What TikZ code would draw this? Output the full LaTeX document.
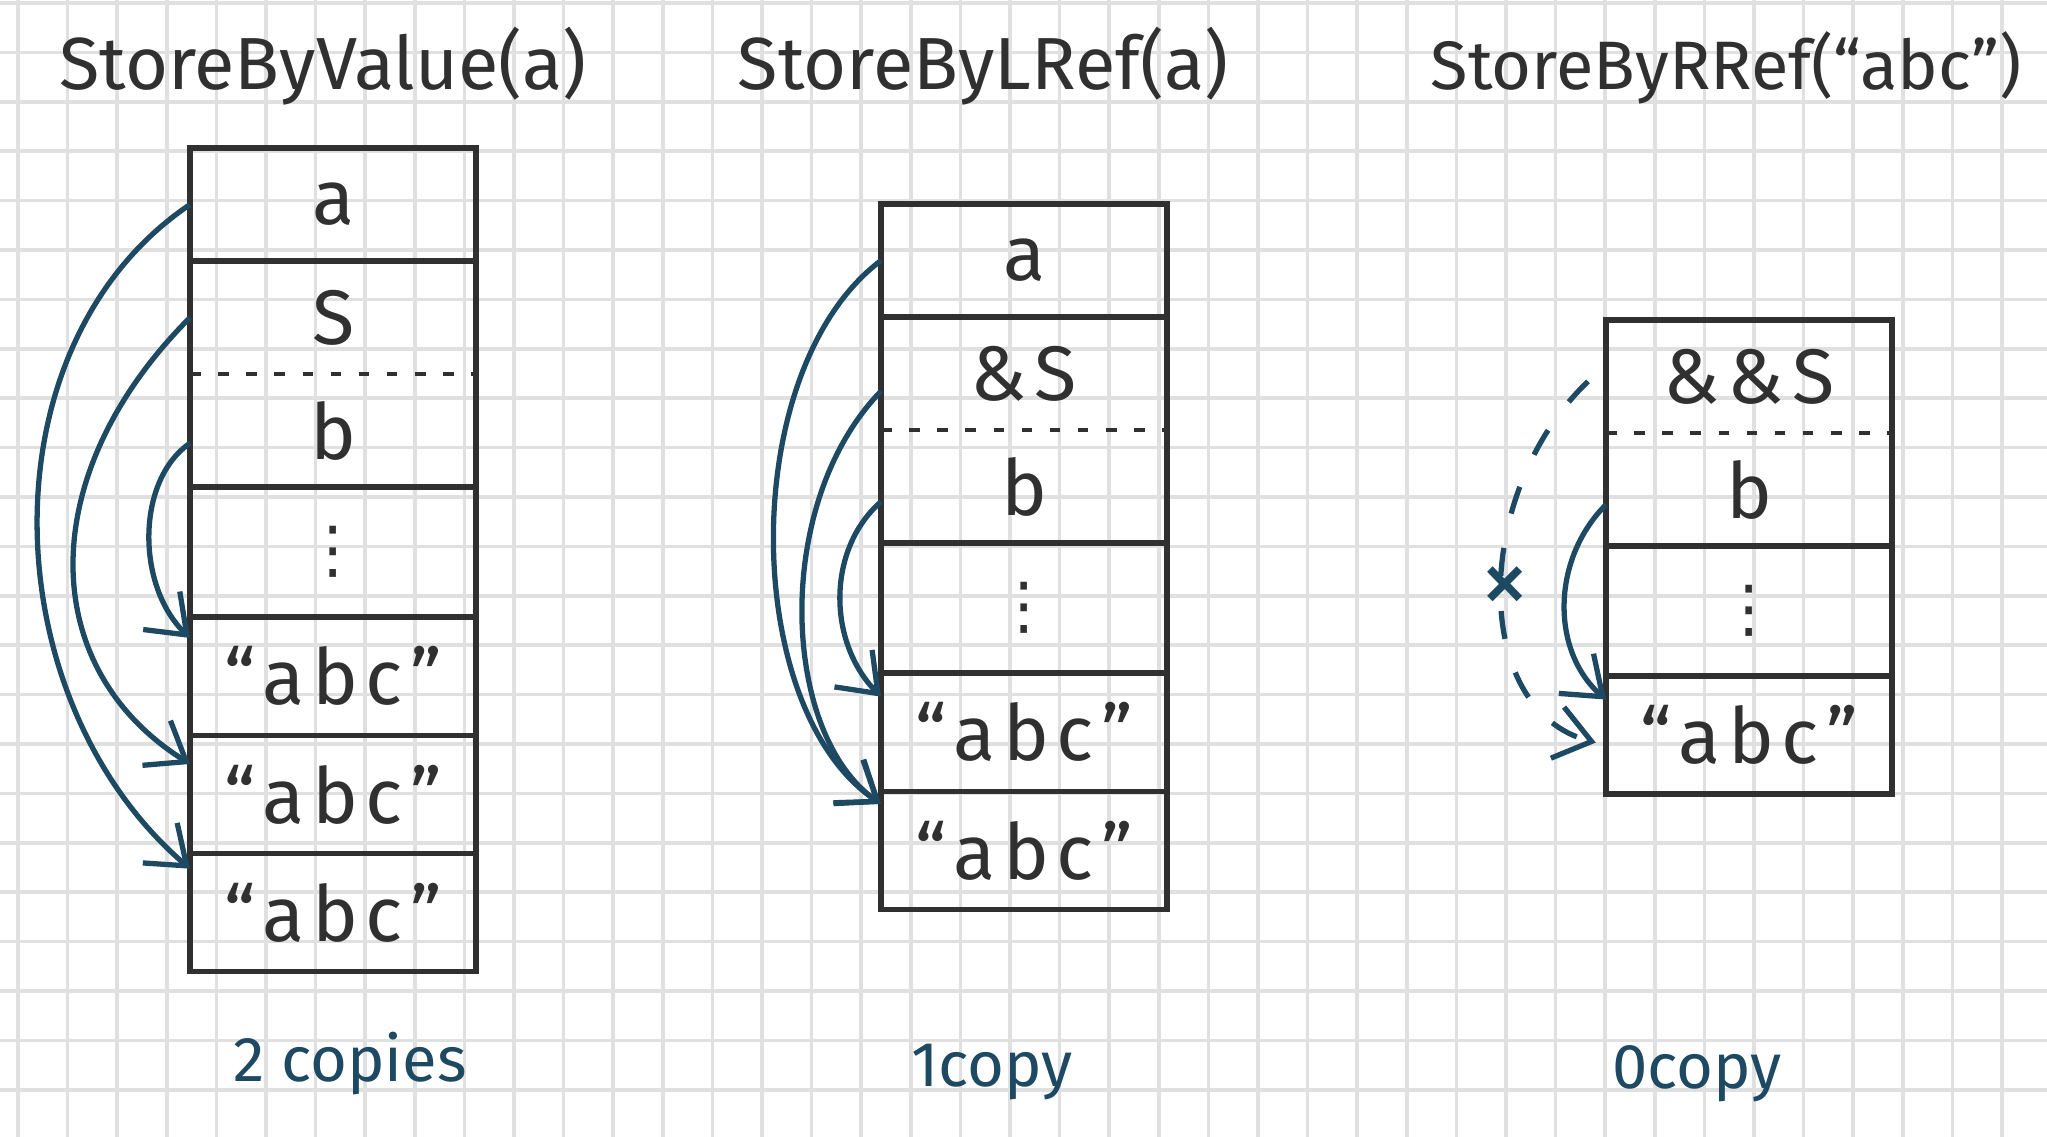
\documentclass[tikz,border=0pt]{standalone}
\usepackage{fontspec}
\setmainfont{Fira Sans}
\newfontfamily\cellfont[LetterSpace=10]{Fira Sans}
\newfontfamily\symfont{DejaVu Sans}
\usetikzlibrary{arrows.meta,positioning}
\definecolor{ink}{HTML}{303030}
\definecolor{pen}{HTML}{1D4962}
\definecolor{paper}{HTML}{E0E0E0}

\begin{document}
\begin{tikzpicture}[
    x=0.01cm, y=-0.01cm,
    gridline/.style={draw=paper, line width=1pt},
    cell/.style={minimum width=2.86cm, inner sep=0pt, outer sep=0pt, text=ink, font=\cellfont\fontsize{22}{26}\selectfont},
    field/.style={cell, minimum height=1.13cm},
    gap/.style={cell, minimum height=1.30cm, font=\symfont\fontsize{18}{20}\selectfont},
    strcell/.style={cell, minimum height=1.18cm},
    outline/.style={draw=ink, line width=1.6pt},
    split/.style={draw=ink, line width=1.2pt, dash pattern=on 3pt off 5pt},
    title/.style={anchor=base, text=ink, font=\fontsize{21}{25}\selectfont},
    tally/.style={anchor=base, text=pen, font=\fontsize{18}{22}\selectfont},
    ref/.style={draw=pen, line width=1.5pt, -{Straight Barb[length=10pt, width=15pt]}},
]
\fill[white] (0,0) rectangle (2047,1137);
\useasboundingbox (0,0) rectangle (2047,1137);

% Paper grid
\foreach \i in {0,...,40} \draw[gridline] ({18+49.6*\i},0) -- ({18+49.6*\i},1137);
\foreach \j in {0,...,22} \draw[gridline] (0,{3+49.4*\j}) -- (2047,{3+49.4*\j});

% Left: StoreByValue(a)
\node[title] (vtitle) at (323,90) {StoreByValue(a)};
\node[field, anchor=north west] (va) at (190,148) {a};
\node[field, below=0pt of va] (vs) {S};
\node[field, below=0pt of vs] (vb) {b};
\node[gap, below=0pt of vb] (vd) {⋮};
\node[strcell, below=0pt of vd] (vc1) {“abc”};
\node[strcell, below=0pt of vc1] (vc2) {“abc”};
\node[strcell, below=0pt of vc2] (vc3) {“abc”};
\draw[outline] (va.north west) rectangle (vc3.south east);
\foreach \c in {va,vb,vd,vc1,vc2} \draw[outline] (\c.south west) -- (\c.south east);
\draw[split] (vs.south west) -- (vs.south east);
\draw[ref] (va.west) .. controls +(-208,140) and +(-198,-170) .. (vc3.163);
\draw[ref] (vs.west) .. controls +(-155,155) and +(-155,-97) .. (vc2.168);
\draw[ref] (vb.185) .. controls +(-54,37) and +(-54,-52) .. (vc1.165);
\node[tally] (vcount) at (350,1082) {2 copies};

% Middle: StoreByLRef(a)
\node[title] (ltitle) at (983,90) {StoreByLRef(a)};
\node[field, anchor=north west] (la) at (881,204) {a};
\node[field, below=0pt of la] (ls) {\&S};
\node[field, below=0pt of ls] (lb) {b};
\node[gap, below=0pt of lb] (ld) {⋮};
\node[strcell, below=0pt of ld] (lc1) {“abc”};
\node[strcell, below=0pt of lc1] (lc2) {“abc”};
\draw[outline] (la.north west) rectangle (lc2.south east);
\foreach \c in {la,lb,ld,lc1} \draw[outline] (\c.south west) -- (\c.south east);
\draw[split] (ls.south west) -- (ls.south east);
\draw[ref] (la.west) .. controls +(-144,108) and +(-141,-95) .. (lc2.162);
\draw[ref] (ls.187) .. controls +(-109,112) and +(-100,-70) .. (lc2.162);
\draw[ref] (lb.186) .. controls +(-54,47) and +(-54,-55) .. (lc1.166);
\node[tally] (lcount) at (992,1087) {1copy};

% Right: StoreByRRef("abc")
\node[title, font=\fontsize{19.5}{24}\selectfont] (rtitle) at (1726,90) {StoreByRRef(“abc”)};
\node[field, anchor=north west] (rs) at (1606,320) {\&\&S};
\node[field, below=0pt of rs] (rb) {b};
\node[gap, below=0pt of rb] (rd) {⋮};
\node[strcell, below=0pt of rd] (rc) {“abc”};
\draw[outline] (rs.north west) rectangle (rc.south east);
\foreach \c in {rb,rd} \draw[outline] (\c.south west) -- (\c.south east);
\draw[split] (rs.south west) -- (rs.south east);
\draw[ref] (rb.186) .. controls +(-55,55) and +(-55,-48) .. (rc.166);
\draw[ref, dash pattern=on 8pt off 10pt, shorten <=0.25cm, shorten >=3pt]
    (rs.175) .. controls +(-135,130) and +(-135,-35) .. (rc.184)
    node[pos=0.5, inner sep=0pt, text=pen, font=\fontsize{28}{28}\selectfont] {×};
\node[tally] (rcount) at (1697,1089) {0copy};
\end{tikzpicture}
\end{document}
